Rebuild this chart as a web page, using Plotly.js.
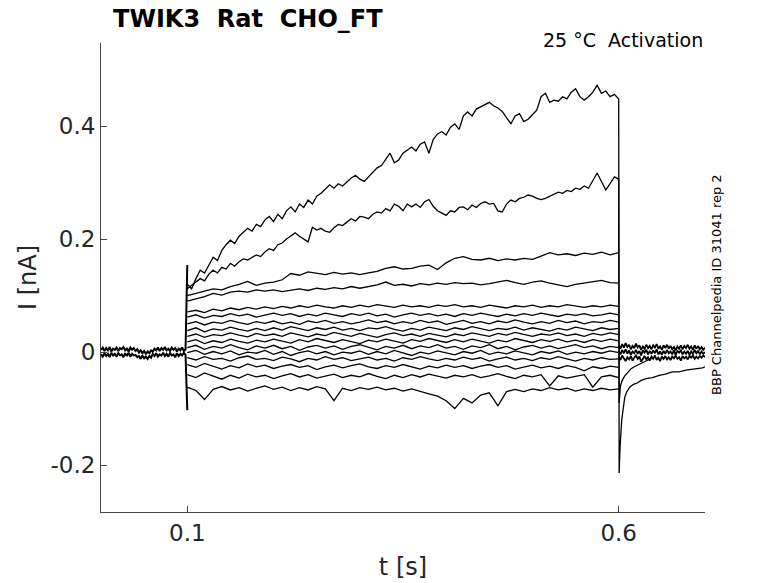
<!DOCTYPE html>
<html>
<head>
<meta charset="utf-8">
<script src="https://cdn.plot.ly/plotly-3.0.1.min.js"></script>
<style>
  html, body { margin: 0; padding: 0; background: #fff; }
  #myDiv { width: 778px; height: 583px; }
</style>
</head>
<body>
<div id="myDiv"></div>
<script>
// sampling clocks [s]
function grid(t0, dt, n) {
  let t = [];
  for (let i = 0; i < n; i++) t.push(Math.round((t0 + i * dt) * 10000) / 10000);
  return t;
}
let tPre = grid(0, 0.002, 51);      // holding, 0 .. 0.1
let tFine = grid(0.1, 0.005, 101);  // step, 0.1 .. 0.6
let tCoarse = grid(0.1, 0.01, 51);  // step, 0.1 .. 0.6
let tPost = grid(0.6, 0.002, 51);   // after step, 0.6 .. 0.7

// holding current before the step (last sample = onset transient) [nA]
let pre1 = [0.004,0.008,0.002,0.007,0.003,0.009,0.001,0.006,0.004,0.008,
  0.002,0.007,0.005,0.009,0.003,0.006,0.001,0.008,0.004,0.007,
  0.002,0.005,-0.001,0.003,-0.002,0.002,-0.003,0.001,-0.002,0.003,
  0.001,0.006,0.003,0.008,0.002,0.007,0.004,0.009,0.003,0.006,
  0.002,0.008,0.004,0.007,0.001,0.006,0.003,0.008,0.002,0.005,0.154];
let pre2 = [-0.004,-0.008,-0.002,-0.007,-0.003,-0.009,-0.001,-0.006,-0.003,-0.008,
  -0.002,-0.006,-0.004,-0.009,-0.002,-0.007,-0.001,-0.008,-0.003,-0.006,
  -0.005,-0.009,-0.007,-0.012,-0.006,-0.011,-0.008,-0.012,-0.007,-0.01,
  -0.003,-0.007,-0.002,-0.008,-0.004,-0.006,-0.001,-0.007,-0.003,-0.008,
  -0.002,-0.006,-0.004,-0.009,-0.002,-0.007,-0.003,-0.006,-0.001,-0.005,-0.103];

// two largest sweeps, fine sampling
let sweepA = [0.12,0.112,0.13,0.145,0.14,0.155,0.168,0.162,0.18,0.19,
  0.198,0.192,0.205,0.212,0.219,0.214,0.226,0.222,0.234,0.24,
  0.231,0.244,0.236,0.25,0.257,0.248,0.262,0.256,0.269,0.262,
  0.276,0.281,0.288,0.296,0.29,0.298,0.294,0.301,0.308,0.313,
  0.306,0.302,0.31,0.318,0.326,0.33,0.342,0.352,0.335,0.34,
  0.352,0.358,0.363,0.356,0.368,0.372,0.352,0.376,0.386,0.39,
  0.384,0.398,0.404,0.394,0.418,0.425,0.418,0.43,0.434,0.438,
  0.442,0.436,0.432,0.426,0.414,0.404,0.418,0.422,0.408,0.412,
  0.42,0.428,0.452,0.458,0.442,0.446,0.444,0.452,0.448,0.46,
  0.466,0.452,0.446,0.452,0.46,0.472,0.458,0.462,0.452,0.456,
  0.448];
let sweepB = [0.112,0.118,0.124,0.13,0.126,0.138,0.145,0.14,0.15,0.147,
  0.157,0.152,0.16,0.165,0.163,0.168,0.172,0.169,0.177,0.183,
  0.18,0.19,0.193,0.2,0.205,0.211,0.205,0.2,0.195,0.221,
  0.216,0.219,0.214,0.212,0.22,0.226,0.224,0.23,0.236,0.232,
  0.24,0.239,0.236,0.244,0.248,0.246,0.254,0.25,0.262,0.258,
  0.25,0.262,0.257,0.262,0.256,0.266,0.27,0.258,0.25,0.246,
  0.242,0.25,0.248,0.256,0.257,0.252,0.26,0.256,0.263,0.266,
  0.262,0.263,0.25,0.248,0.262,0.269,0.266,0.272,0.274,0.278,
  0.276,0.272,0.27,0.272,0.276,0.28,0.283,0.281,0.286,0.284,
  0.29,0.288,0.294,0.29,0.304,0.317,0.302,0.287,0.298,0.31,
  0.306];

// tail currents after the step
let tailAT = [0.6005,0.6015,0.6035,0.607,0.6095,0.6127,0.617,0.621,0.626,0.632,
  0.639,0.647,0.654,0.662,0.67,0.678,0.684,0.69,0.697,0.7];
let tailA = [-0.214,-0.17,-0.12,-0.08,-0.07,-0.062,-0.057,-0.055,-0.05,-0.047,
  -0.045,-0.041,-0.039,-0.035,-0.035,-0.032,-0.031,-0.029,-0.028,-0.026];
let tailBT = [0.6005,0.602,0.604,0.607,0.61,0.614,0.618,0.623,0.628,0.634,0.64];
let tailB = [-0.09,-0.06,-0.05,-0.042,-0.036,-0.03,-0.026,-0.022,-0.018,-0.014,-0.01];

// remaining sweeps, coarse sampling
let sweepC = [0.1,0.104,0.108,0.112,0.11,0.116,0.12,0.125,0.118,0.122,
  0.124,0.128,0.139,0.136,0.142,0.14,0.137,0.141,0.138,0.14,
  0.137,0.14,0.143,0.148,0.151,0.147,0.148,0.152,0.154,0.146,
  0.158,0.166,0.169,0.164,0.163,0.166,0.162,0.165,0.163,0.166,
  0.164,0.17,0.176,0.172,0.174,0.171,0.175,0.173,0.177,0.172,0.176];
let sweepD = [0.09,0.094,0.098,0.104,0.101,0.106,0.108,0.106,0.11,0.108,
  0.11,0.107,0.11,0.112,0.109,0.113,0.111,0.114,0.112,0.116,
  0.113,0.116,0.119,0.124,0.118,0.12,0.117,0.121,0.119,0.122,
  0.12,0.123,0.121,0.122,0.119,0.121,0.124,0.127,0.123,0.12,
  0.124,0.126,0.122,0.119,0.116,0.12,0.122,0.124,0.127,0.123,0.122];
let sweepF1 = [0.071,0.074,0.07,0.076,0.073,0.078,0.075,0.079,0.076,0.08,
  0.077,0.081,0.078,0.082,0.079,0.083,0.08,0.078,0.082,0.079,
  0.083,0.08,0.084,0.081,0.079,0.083,0.08,0.082,0.079,0.083,
  0.081,0.084,0.08,0.082,0.079,0.083,0.081,0.078,0.082,0.08,
  0.083,0.079,0.082,0.08,0.084,0.081,0.079,0.082,0.08,0.083,0.081];
let sweepF2 = [0.062,0.066,0.06,0.065,0.063,0.068,0.064,0.067,0.062,0.066,
  0.069,0.065,0.068,0.063,0.067,0.064,0.069,0.066,0.063,0.068,
  0.065,0.069,0.064,0.067,0.062,0.066,0.069,0.065,0.068,0.064,
  0.067,0.063,0.068,0.065,0.069,0.066,0.063,0.067,0.064,0.068,
  0.065,0.069,0.066,0.063,0.067,0.065,0.068,0.064,0.066,0.069,0.066];
let sweepF3 = [0.05,0.054,0.048,0.053,0.051,0.056,0.052,0.049,0.054,0.051,
  0.055,0.05,0.053,0.049,0.055,0.052,0.056,0.051,0.054,0.05,
  0.053,0.057,0.052,0.055,0.05,0.054,0.051,0.056,0.052,0.055,
  0.049,0.053,0.056,0.051,0.054,0.05,0.055,0.052,0.057,0.053,
  0.05,0.054,0.051,0.056,0.052,0.055,0.05,0.054,0.052,0.056,0.053];
let sweepF4 = [0.038,0.043,0.036,0.041,0.039,0.044,0.04,0.037,0.042,0.038,
  0.043,0.039,0.045,0.041,0.038,0.043,0.04,0.044,0.039,0.042,
  0.038,0.043,0.041,0.045,0.04,0.037,0.042,0.039,0.044,0.041,
  0.038,0.043,0.04,0.045,0.041,0.038,0.042,0.04,0.044,0.039,
  0.043,0.04,0.037,0.042,0.039,0.044,0.041,0.038,0.043,0.04,0.042];
let sweepF5 = [0.028,0.032,0.026,0.031,0.029,0.034,0.03,0.027,0.033,0.029,
  0.032,0.028,0.034,0.03,0.027,0.032,0.029,0.035,0.031,0.028,
  0.033,0.03,0.026,0.031,0.034,0.029,0.032,0.028,0.033,0.03,
  0.027,0.032,0.029,0.034,0.031,0.028,0.033,0.03,0.035,0.031,
  0.028,0.032,0.03,0.034,0.029,0.032,0.028,0.033,0.03,0.034,0.031];
let sweepF6 = [0.018,0.022,0.015,0.02,0.017,0.023,0.019,0.016,0.021,0.018,
  0.023,0.019,0.016,0.022,0.018,0.024,0.02,0.017,0.022,0.019,
  0.015,0.021,0.018,0.023,0.02,0.016,0.022,0.019,0.024,0.02,
  0.017,0.022,0.018,0.023,0.019,0.016,0.021,0.018,0.024,0.02,
  0.017,0.022,0.019,0.023,0.018,0.021,0.017,0.022,0.019,0.023,0.02];
let sweepF7 = [0.008,0.012,0.005,0.01,0.007,0.013,0.008,0.004,0.011,0.007,
  0.012,0.006,0.01,0.003,0.009,0.012,0.007,0.011,0.005,0.01,
  0.013,0.008,0.004,0.01,0.007,0.012,0.006,0.011,0.008,0.013,
  0.007,0.01,0.005,0.011,0.008,0.013,0.006,0.01,0.004,0.009,
  0.012,0.007,0.011,0.006,0.01,0.013,0.008,0.011,0.006,0.01,0.008];
let sweepF8 = [-0.001,0.003,-0.004,0.001,-0.003,0.002,-0.005,0.0,-0.002,0.003,
  -0.004,0.001,-0.006,-0.001,0.002,-0.003,0.001,-0.005,0.0,-0.002,
  0.002,-0.004,0.001,-0.003,0.003,-0.002,-0.006,0.0,-0.003,0.002,
  -0.001,-0.005,0.001,-0.002,0.003,-0.004,0.0,-0.003,0.002,-0.001,
  -0.005,0.001,-0.002,0.002,-0.004,0.0,-0.003,0.001,-0.002,0.002,-0.001];
let sweepF9 = [-0.01,-0.014,-0.008,-0.013,-0.011,-0.016,-0.01,-0.007,-0.013,-0.011,
  -0.015,-0.009,-0.012,-0.017,-0.011,-0.014,-0.008,-0.013,-0.01,-0.015,
  -0.012,-0.009,-0.014,-0.011,-0.016,-0.01,-0.013,-0.008,-0.012,-0.015,
  -0.011,-0.014,-0.009,-0.013,-0.01,-0.016,-0.012,-0.009,-0.014,-0.011,
  -0.015,-0.01,-0.013,-0.008,-0.012,-0.016,-0.011,-0.014,-0.01,-0.013,-0.012];
let sweepF10 = [-0.022,-0.027,-0.02,-0.025,-0.03,-0.024,-0.028,-0.021,-0.026,-0.023,
  -0.029,-0.025,-0.022,-0.027,-0.024,-0.031,-0.026,-0.023,-0.028,-0.024,
  -0.021,-0.026,-0.029,-0.024,-0.027,-0.022,-0.026,-0.03,-0.025,-0.028,
  -0.023,-0.027,-0.024,-0.029,-0.025,-0.022,-0.027,-0.024,-0.03,-0.026,
  -0.023,-0.028,-0.025,-0.029,-0.024,-0.027,-0.033,-0.026,-0.029,-0.025,-0.027];
let sweepF11 = [-0.04,-0.045,-0.037,-0.043,-0.048,-0.041,-0.046,-0.039,-0.044,-0.041,
  -0.047,-0.042,-0.038,-0.044,-0.04,-0.046,-0.042,-0.039,-0.045,-0.041,
  -0.044,-0.038,-0.043,-0.047,-0.041,-0.045,-0.04,-0.044,-0.039,-0.043,
  -0.046,-0.041,-0.044,-0.04,-0.045,-0.042,-0.038,-0.043,-0.047,-0.041,
  -0.044,-0.04,-0.06,-0.042,-0.046,-0.043,-0.04,-0.062,-0.044,-0.041,-0.045];
let sweepF12 = [-0.062,-0.068,-0.084,-0.066,-0.061,-0.067,-0.063,-0.069,-0.064,-0.06,
  -0.066,-0.062,-0.068,-0.063,-0.067,-0.061,-0.065,-0.086,-0.064,-0.068,
  -0.063,-0.066,-0.062,-0.067,-0.064,-0.069,-0.065,-0.07,-0.074,-0.078,
  -0.086,-0.1,-0.082,-0.09,-0.076,-0.072,-0.095,-0.07,-0.066,-0.07,
  -0.065,-0.068,-0.063,-0.067,-0.064,-0.069,-0.065,-0.068,-0.064,-0.067,-0.065];

// after the step, overlapping sweeps back at holding
let post1 = [0.012,0.006,0.014,0.008,0.016,0.009,0.013,0.005,0.011,0.007,
  0.015,0.008,0.012,0.004,0.01,0.006,0.013,0.007,0.011,0.005,
  0.012,0.008,0.014,0.006,0.01,0.004,0.012,0.007,0.013,0.006,
  0.011,0.005,0.009,0.003,0.01,0.006,0.012,0.005,0.011,0.007,
  0.013,0.006,0.01,0.004,0.012,0.006,0.011,0.005,0.009,0.004,0.008];
let post2 = [0.002,-0.004,0.004,-0.002,0.005,-0.003,0.003,-0.005,0.001,-0.002,
  0.004,-0.003,0.002,-0.006,0.003,-0.001,0.004,-0.004,0.002,-0.003,
  0.003,-0.002,0.005,-0.004,0.001,-0.005,0.002,-0.003,0.004,-0.002,
  0.001,-0.004,0.003,-0.005,0.002,-0.001,0.003,-0.004,0.001,-0.003,
  0.002,-0.005,0.001,-0.003,0.004,-0.002,0.002,-0.004,0.001,-0.003,0.0];
let post3 = [-0.008,-0.014,-0.006,-0.012,-0.016,-0.009,-0.013,-0.007,-0.015,-0.01,
  -0.006,-0.012,-0.008,-0.017,-0.011,-0.007,-0.013,-0.009,-0.015,-0.008,
  -0.012,-0.006,-0.014,-0.01,-0.016,-0.008,-0.012,-0.007,-0.013,-0.009,
  -0.014,-0.008,-0.011,-0.006,-0.012,-0.009,-0.015,-0.007,-0.011,-0.008,
  -0.013,-0.007,-0.01,-0.006,-0.012,-0.008,-0.011,-0.007,-0.01,-0.006,-0.009];

let yTicks = [-0.2, 0, 0.2, 0.4];
let yTickText = ['-0.2', '0', '0.2', '0.4'];
let xTicks = [0.1, 0.6];
let xTickText = ['0.1', '0.6'];

function line(x, y, w) {
  return { x: x, y: y, mode: 'lines', type: 'scatter',
    line: { color: '#000', width: w || 1.3 }, hoverinfo: 'skip', showlegend: false };
}

let data1 = [
  line(tPre, pre1, 2),
  line(tPre, pre2, 2),
  line(tFine.concat(tailAT), sweepA.concat(tailA)),
  line(tFine.concat(tailBT), sweepB.concat(tailB)),
  line(tCoarse, sweepC),
  line(tCoarse, sweepD)
];
let flat = [sweepF1, sweepF2, sweepF3, sweepF4, sweepF5, sweepF6,
  sweepF7, sweepF8, sweepF9, sweepF10, sweepF11, sweepF12];
for (let i = 0; i < flat.length; i++) data1.push(line(tCoarse, flat[i]));
data1.push(line(tPost, post1, 1.8), line(tPost, post2, 1.8), line(tPost, post3, 1.8));

let axisFont = { family: 'DejaVu Sans', size: 23, color: '#262626' };

let layout = {
  width: 778, height: 583,
  margin: { l: 101, r: 73, t: 43, b: 71 },
  paper_bgcolor: '#fff', plot_bgcolor: '#fff',
  font: { family: 'DejaVu Sans', color: '#262626' },
  title: {
    text: '<b>TWIK3\u00a0\u00a0Rat\u00a0\u00a0CHO_FT</b>',
    font: { family: 'DejaVu Sans', size: 24, color: '#000' },
    xref: 'paper', x: 0.02, xanchor: 'left',
    yref: 'container', y: 0.968, yanchor: 'middle'
  },
  xaxis: {
    range: [0, 0.7], tickvals: xTicks, ticktext: xTickText,
    ticks: 'inside', ticklen: 6, tickcolor: '#444',
    showline: true, linecolor: '#444', linewidth: 1,
    showgrid: false, zeroline: false, tickfont: axisFont,
    title: { text: 't [s]', font: { family: 'DejaVu Sans', size: 24, color: '#262626' }, standoff: 13 }
  },
  yaxis: {
    range: [-0.283, 0.547], tickvals: yTicks, ticktext: yTickText,
    ticks: 'inside', ticklen: 6, tickcolor: '#444',
    showline: true, linecolor: '#444', linewidth: 1,
    showgrid: false, zeroline: false, tickfont: axisFont,
    title: { text: 'I [nA]', font: { family: 'DejaVu Sans', size: 24, color: '#262626' }, standoff: 7 }
  },
  annotations: [
    { text: '25 °C\u00a0\u00a0Activation', xref: 'paper', yref: 'paper',
      x: 1, y: 1.006, xanchor: 'right', yanchor: 'middle', showarrow: false,
      font: { family: 'DejaVu Sans', size: 19, color: '#000' } },
    { text: 'BBP Channelpedia ID 31041 rep 2', xref: 'paper', yref: 'paper',
      x: 1.018, y: 0.486, xanchor: 'center', yanchor: 'middle', textangle: -90,
      showarrow: false, font: { family: 'DejaVu Sans', size: 13, color: '#000' } }
  ]
};

Plotly.newPlot('myDiv', data1, layout, { displayModeBar: false, staticPlot: true });
</script>
</body>
</html>
